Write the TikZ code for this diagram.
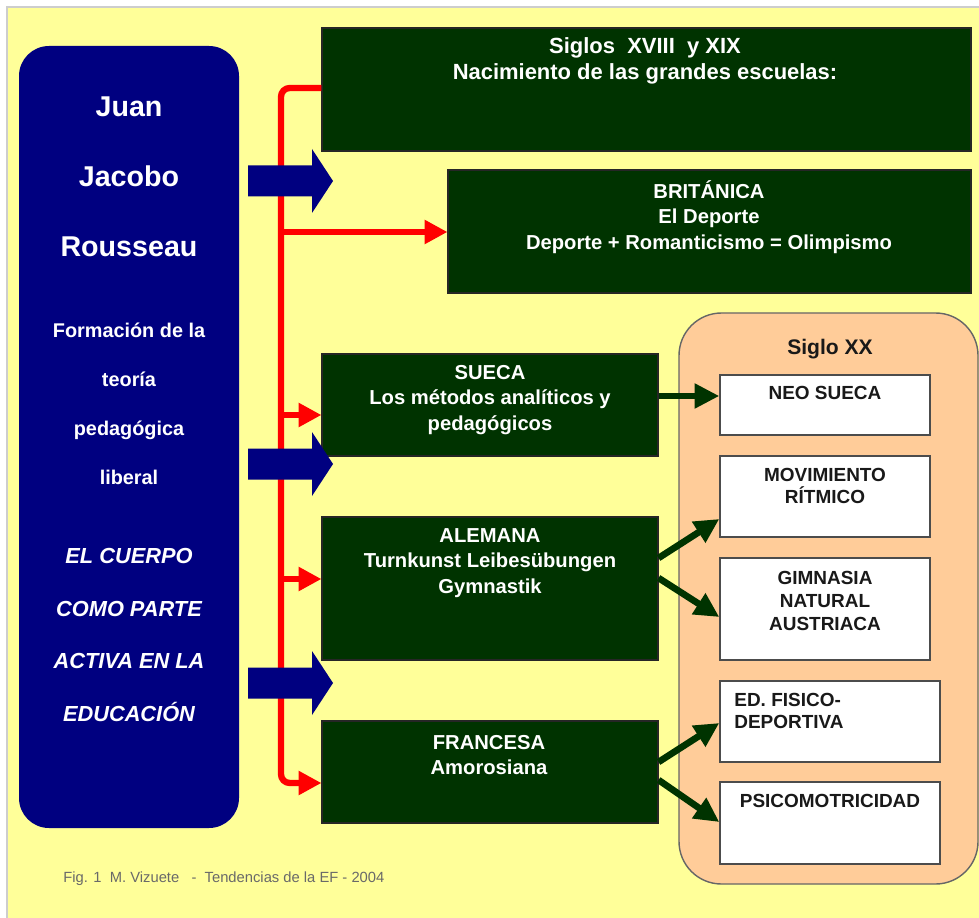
\documentclass[tikz,border=0pt]{standalone}
\usepackage{fontspec}
\setmainfont{Liberation Sans}
\usetikzlibrary{arrows.meta,fit}
\definecolor{FondoColor} {RGB}{255,255,153}
\definecolor{AzulColor}  {RGB}{0,0,128}
\definecolor{VerdeColor} {RGB}{0,51,0}
\definecolor{SigloColor} {RGB}{255,204,153}
\definecolor{RojoColor}  {RGB}{255,0,0}
\definecolor{BordeColor} {RGB}{205,205,205}
\definecolor{PieColor}   {RGB}{105,105,105}

\begin{document}
\begin{tikzpicture}[x=0.02cm,y=-0.02cm,every node/.style={align=center,inner sep=0pt},
  caja/.style={draw=black!85,fill=VerdeColor,line width=0.6pt},
  blanca/.style={draw=black!70,fill=white,line width=0.8pt},
  txtverde/.style={text=white,font=\fontsize{11.5}{14.7}\selectfont\bfseries},
  txtblanca/.style={text=black!90,font=\fontsize{10.8}{13}\selectfont\bfseries},
  rojo/.style={draw=RojoColor,line width=3.6pt},
  puntaroja/.style={-{Triangle[length=13pt,width=13pt]}},
  verde/.style={draw=VerdeColor,line width=3.8pt,-{Triangle[length=14pt,width=13.4pt]}}]
\useasboundingbox (0,0) rectangle (979,918);
\fill[white] (0,0) rectangle (979,918);
\fill[FondoColor] (7,7) rectangle (979,918);
\draw[BordeColor,line width=0.6pt] (7,918) -- (7,7) -- (979,7);

% columna de Rousseau
\node[fit={(19,46) (239,828)},fill=AzulColor,rounded corners=0.6cm] (rousseau) {};
\node[text=white,font=\fontsize{16.3}{39.7}\selectfont\bfseries] (nombre) at (129,177) {Juan\\Jacobo\\Rousseau};
\node[text=white,font=\fontsize{11.3}{27.8}\selectfont\bfseries] (teoria) at (129,404) {Formación de la\\teoría\\pedagógica\\liberal};
\node[text=white,font=\fontsize{12.4}{30}\selectfont\bfseries\itshape] (cuerpo) at (129,635) {EL CUERPO\\COMO PARTE\\ACTIVA EN LA\\EDUCACIÓN};

% escuelas
\node[caja,fit={(322,28) (971,151)}] (escuelas) {};
\node[caja,fit={(448,170) (971,293)}] (britanica) {};
\node[caja,fit={(322,354) (658,456)}] (sueca) {};
\node[caja,fit={(322,517) (658,660)}] (alemana) {};
\node[caja,fit={(322,721) (658,823)}] (francesa) {};
\node[txtverde,font=\fontsize{12.5}{14.7}\selectfont\bfseries] (escuelas-t) at (645,61) {Siglos~ XVIII~ y XIX\\Nacimiento de las grandes escuelas:};
\node[txtverde] (britanica-t) at (709,217) {BRITÁNICA\\El Deporte\\Deporte + Romanticismo = Olimpismo};
\node[txtverde] (sueca-t) at (490,400) {SUECA\\Los métodos analíticos y\\pedagógicos};
\node[txtverde] (alemana-t) at (490,563) {ALEMANA\\Turnkunst Leibesübungen\\Gymnastik};
\node[txtverde] (francesa-t) at (489,755) {FRANCESA\\Amorosiana};

% siglo XX
\node[fit={(679,313) (978,884)},draw=black!60,fill=SigloColor,line width=0.8pt,rounded corners=0.85cm] (siglo) {};
\node[text=black!90,font=\fontsize{12}{14}\selectfont\bfseries] (siglo-t) at (830,349) {Siglo XX};
\node[blanca,fit={(720,375) (930,435)}] (neosueca) {};
\node[blanca,fit={(720,456) (930,537)}] (movimiento) {};
\node[blanca,fit={(720,558) (930,660)}] (gimnasia) {};
\node[blanca,fit={(720,681) (940,762)}] (fisico) {};
\node[blanca,fit={(720,782) (940,864)}] (psico) {};
\node[txtblanca] (neosueca-t) at (825,392.5) {NEO SUECA};
\node[txtblanca] (movimiento-t) at (825,486) {MOVIMIENTO\\RÍTMICO};
\node[txtblanca] (gimnasia-t) at (825,601) {GIMNASIA\\NATURAL\\AUSTRIACA};
\node[txtblanca,anchor=west,align=left] (fisico-t) at (734,711) {ED. FISICO-\\DEPORTIVA};
\node[txtblanca] (psico-t) at (830,800.5) {PSICOMOTRICIDAD};

% tronco rojo
\coordinate (tronco) at (281,88);
\draw[rojo,puntaroja,rounded corners=5pt] (escuelas.west |- tronco) -- (tronco) |- (francesa.west |- 0,783);
\foreach \n/\y in {britanica/232,sueca/415,alemana/579}
  \draw[rojo,puntaroja] (tronco |- 0,\y) -- (\n.west |- 0,\y);

% flechas azules
\foreach \y in {181,464,683}
  \fill[AzulColor] (248,\y-15.5) -- (312,\y-15.5) -- (312,\y-32) -- (333,\y)
    -- (312,\y+32) -- (312,\y+15.5) -- (248,\y+15.5) -- cycle;

% flechas verdes
\foreach \a/\ya/\b/\yb in {sueca/396/neosueca/396,alemana/558/movimiento/519,
    alemana/578/gimnasia/617,francesa/762/fisico/723,francesa/780/psico/822}
  \draw[verde] (\a.east |- 0,\ya) -- (\b.west |- 0,\yb);

\node[anchor=west,text=PieColor,font=\fontsize{8.4}{10}\selectfont] (pie) at (63,879) {Fig. 1~ M. Vizuete~~ -~ Tendencias de la EF - 2004};
\end{tikzpicture}
\end{document}
